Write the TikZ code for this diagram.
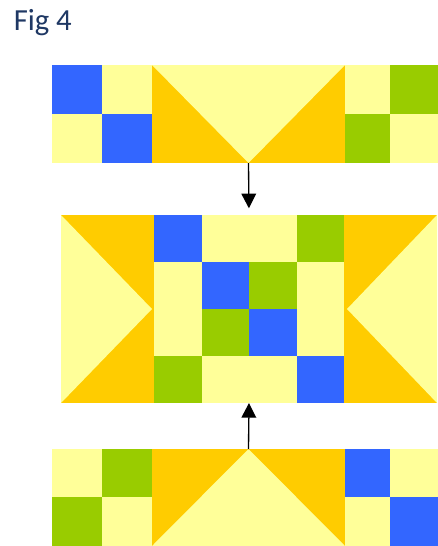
\documentclass[tikz,border=0pt]{standalone}
\usepackage{fontspec}
\setmainfont{Carlito}
\usetikzlibrary{arrows.meta,positioning,fit}
\definecolor{qblue}{RGB}{51,102,255}
\definecolor{qyellow}{RGB}{255,255,153}
\definecolor{qorange}{RGB}{255,204,0}
\definecolor{qgreen}{RGB}{153,204,0}
\definecolor{qtitle}{RGB}{31,56,100}

\begin{document}
\begin{tikzpicture}[
  x=0.75pt,y=-0.75pt,
  blockbox/.style={inner sep=0pt,outer sep=0pt},
  arr/.style={-{Triangle[length=11pt,width=11pt]},line width=1pt,black}
]
  \useasboundingbox (0,0) rectangle (438,546);
  \node[anchor=base west,inner sep=0pt,text=qtitle,font=\fontsize{23}{28}\selectfont] (title) at (13.5,30) {Fig 4};

  \fill[qyellow] (52,65) rectangle (152,163);
  \fill[qblue] (52,65) rectangle (102,114);
  \fill[qblue] (102,114) rectangle (152,163);
  \fill[qorange] (152,65) rectangle (345,163);
  \fill[qyellow] (152,65) -- (345,65) -- (248.5,163) -- cycle;
  \fill[qyellow] (345,65) rectangle (438,163);
  \fill[qgreen] (390,65) rectangle (438,114);
  \fill[qgreen] (345,114) rectangle (390,163);
  \node[blockbox,fit={(152,65) (345,163)}] (topgeese) {};

  \fill[qorange] (61,215) rectangle (154,403);
  \fill[qyellow] (61,215) -- (152,309) -- (61,403) -- cycle;
  \fill[qyellow] (154,215) rectangle (344,403);
  \foreach \i in {0,...,3} {
    \fill[qblue] ({154+47.5*\i},{215+47*\i}) rectangle +(47.5,47);
    \fill[qgreen] ({154+47.5*(3-\i)},{215+47*\i}) rectangle +(47.5,47);
  }
  \fill[qorange] (344,215) rectangle (437,403);
  \fill[qyellow] (437,215) -- (347,309) -- (437,403) -- cycle;
  \node[blockbox,fit={(61,215) (437,403)}] (midblock) {};

  \fill[qyellow] (52,449) rectangle (152,546);
  \fill[qgreen] (102,449) rectangle (152,497);
  \fill[qgreen] (52,497) rectangle (102,546);
  \fill[qorange] (152,449) rectangle (345,546);
  \fill[qyellow] (248.5,449) -- (152,546) -- (345,546) -- cycle;
  \fill[qyellow] (345,449) rectangle (438,546);
  \fill[qblue] (345,449) rectangle (390,497);
  \fill[qblue] (390,497) rectangle (438,546);
  \node[blockbox,fit={(152,449) (345,546)}] (botgeese) {};

  \draw[arr,shorten >=5pt] (topgeese.south) -- (midblock.north);
  \draw[arr] (botgeese.north) -- (midblock.south);
\end{tikzpicture}
\end{document}
